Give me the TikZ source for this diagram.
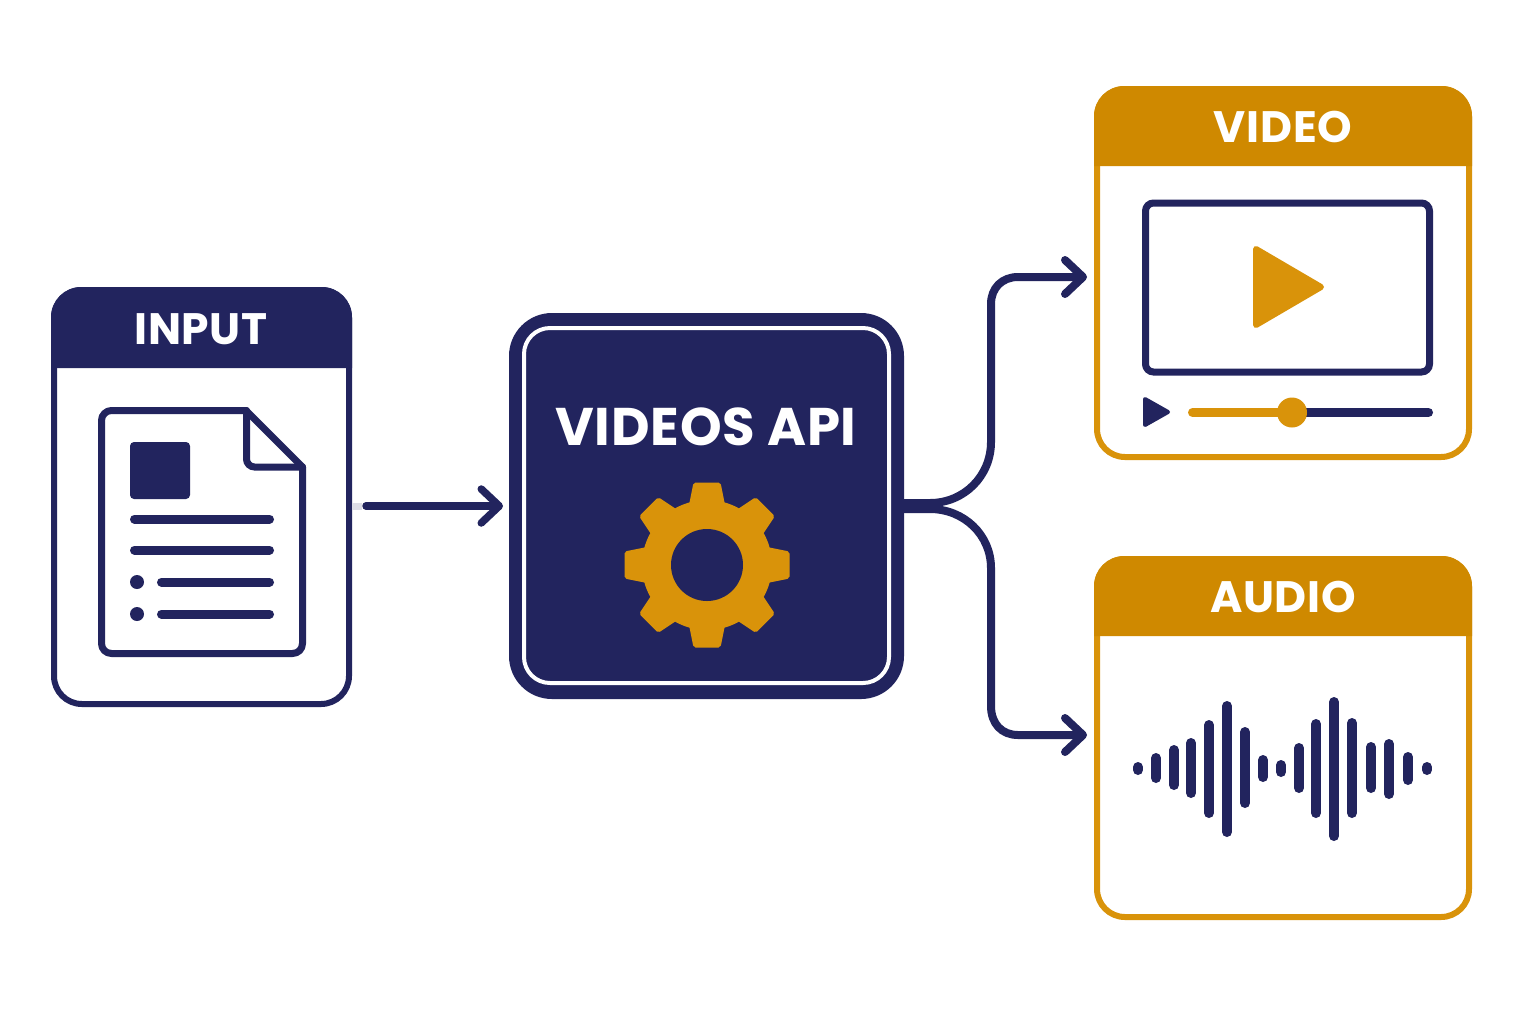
\documentclass[tikz,border=0pt]{standalone}
\usepackage{fontspec}
\setsansfont{Poppins}[LetterSpace=1.5]
\usetikzlibrary{arrows.meta,positioning}
\definecolor{navydark}{HTML}{22245E}
\definecolor{goldhead}{HTML}{CF8900}
\definecolor{goldline}{HTML}{D9930A}
\tikzset{
    navycard/.style={draw=navydark, line width=3pt, rounded corners=14pt, fill=white},
    goldcard/.style={draw=goldline, line width=3pt, rounded corners=14pt, fill=white},
    headlabel/.style={font=\sffamily\bfseries, text=white},
    flowline/.style={draw=navydark, line width=4pt, line cap=round},
    flowarrow/.style={flowline, -{Straight Barb[round, length=9pt, width=17pt]}},
    iconline/.style={draw=navydark, line width=4.5pt, line cap=round},
}
\begin{document}
\begin{tikzpicture}[x=0.5pt,y=-0.5pt]
    \useasboundingbox (0,0) rectangle (1536,1024);
    \fill[white] (0,0) rectangle (1536,1024);

    % Input card
    \node[navycard, minimum width=147.5pt, minimum height=207pt] (inputcard) at (201.5,497) {};
    \fill[navydark] (51,368) {[rounded corners=15pt] -- (51,287) -- (352,287)} -- (352,368) -- cycle;
    \node[headlabel, font=\sffamily\bfseries\fontsize{22}{26}\selectfont] (inputlabel) at (201,329) {INPUT};

    % Document icon
    \draw[navydark, line width=3.5pt, line cap=round, line join=round, rounded corners=5pt, fill=white]
        (246,410.5) -- (101.5,410.5) -- (101.5,653.5) -- (302.5,653.5) -- (302.5,467);
    \draw[navydark, line width=3.5pt, line cap=round] (246,410.5) -- (302.5,467);
    \draw[navydark, line width=3.5pt, line cap=round, rounded corners=4pt] (246.5,410.5) -- (246.5,467) -- (302.5,467);
    \fill[navydark, rounded corners=2pt] (130,442) rectangle (190,499);
    \foreach \y in {519,550} {
        \draw[iconline] (134.5,\y) -- (269.5,\y);
    }
    \foreach \y in {582,614} {
        \fill[navydark] (137,\y) circle (3.5pt);
        \draw[iconline] (161.5,\y) -- (269.5,\y);
    }

    % Api box
    \node[draw=navydark, fill=navydark, line width=7pt, rounded corners=18pt, minimum width=190.5pt, minimum height=186pt] (apibox) at (706.5,506) {};
    \draw[white, line width=2pt, rounded corners=13pt] (524,328) rectangle (889,683);
    \node[headlabel, font=\sffamily\bfseries\fontsize{26.5}{30}\selectfont] (apilabel) at (706,427) {VIDEOS API};

    % Gear
    \fill[goldline] (707,565) circle (32.5pt);
    \foreach \a in {0,45,...,315} {
        \fill[goldline, rounded corners=1pt, rotate around={\a:(707,565)}]
            (689,505) -- (693.5,482.5) -- (720.5,482.5) -- (725,505) -- cycle;
    }
    \fill[navydark] (707,565) circle (18pt);

    % Video card
    \node[goldcard, minimum width=186pt, minimum height=184pt] (videocard) at (1283,273) {};
    \fill[goldhead] (1094,166) {[rounded corners=15pt] -- (1094,86) -- (1472,86)} -- (1472,166) -- cycle;
    \node[headlabel, font=\sffamily\bfseries\fontsize{22}{26}\selectfont] (videolabel) at (1283,127) {VIDEO};
    \draw[navydark, line width=3.5pt, rounded corners=4pt] (1145.5,203) rectangle (1429.5,372);
    \fill[goldline, draw=goldline, line width=3pt, line join=round] (1256,249) -- (1321,287) -- (1256,325) -- cycle;
    \fill[navydark, draw=navydark, line width=2pt, line join=round] (1145,399) -- (1168,412) -- (1145,425) -- cycle;
    \draw[iconline] (1292,412.5) -- (1428.5,412.5);
    \draw[iconline, draw=goldline] (1192.5,412.5) -- (1292,412.5);
    \fill[goldline] (1292,412.5) circle (7.5pt);

    % Audio card
    \node[goldcard, minimum width=186pt, minimum height=179pt] (audiocard) at (1283,738) {};
    \fill[goldhead] (1094,636) {[rounded corners=15pt] -- (1094,556) -- (1472,556)} -- (1472,636) -- cycle;
    \node[headlabel, font=\sffamily\bfseries\fontsize{22}{26}\selectfont] (audiolabel) at (1283,597) {AUDIO};
    \foreach \x/\ya/\yb in {1138/762/775, 1156/753/783, 1174/745/790, 1191/738/798, 1209/720/818, 1227/701/837,
        1245/727/808, 1263/755/782, 1281/760/777, 1299/743/793, 1316/719/818, 1334/697/841,
        1352/718/818, 1371/742/793, 1389/739/799, 1408/752/785, 1427/762/775} {
        \draw[navydark, line width=5pt, line cap=round] (\x,\ya+5) -- (\x,\yb-5);
    }

    % Connectors
    \coordinate (inputout) at (inputcard.east |- apibox.west);
    \coordinate (videoin) at (1087,277);
    \coordinate (audioin) at (1087,735);
    \draw[navydark!15, line width=3.5pt] (inputout) -- ++(10,0);
    \draw[flowarrow, line width=3.75pt, shorten >=3pt] ([xshift=7pt]inputout) -- (apibox.west);
    \draw[flowarrow] ([yshift=1.5pt]apibox.east) -- (930,503) .. controls (964,503) and (991,476) .. (991,442)
        -- (991,304) .. controls (991,288) and (1002,277) .. (1018,277) -- (videoin);
    \draw[flowarrow] ([yshift=-1.5pt]apibox.east) -- (930,509) .. controls (964,509) and (991,535) .. (991,568)
        -- (991,706) .. controls (991,724) and (1002,735) .. (1018,735) -- (audioin);
\end{tikzpicture}
\end{document}
